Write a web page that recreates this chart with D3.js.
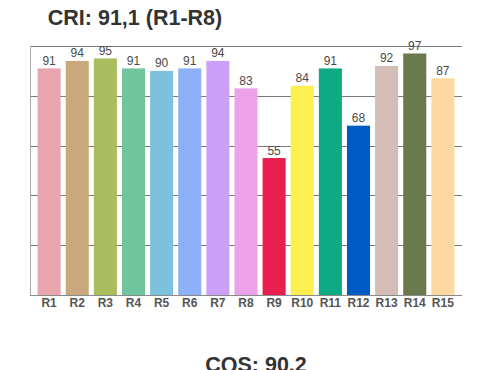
<!DOCTYPE html>
<html>
<head>
<meta charset="utf-8">
<script src="https://cdn.jsdelivr.net/npm/d3@7"></script>
<style>
  body { margin: 0; background: #fff; }
  svg { display: block; font-family: "Liberation Sans", Arial, sans-serif; }
</style>
</head>
<body>
<div id="chart"></div>
<script>
const W = 500;
const H = 370;

const categories = ['R1', 'R2', 'R3', 'R4', 'R5', 'R6', 'R7', 'R8', 'R9', 'R10', 'R11', 'R12', 'R13', 'R14', 'R15'];
const values = [91, 94, 95, 91, 90, 91, 94, 83, 55, 84, 91, 68, 92, 97, 87];
const colors = ['#e8a5ae', '#c9a87c', '#a9bd5f', '#6fc59d', '#7ec1df', '#8db1f9', '#cc9ff9', '#eca2e9',
  '#e81e4e', '#fdef52', '#0daa83', '#005ac4', '#d3bdb6', '#6a7a4d', '#fdd8a1'];
const gridTicks = [20, 40, 60, 80];
const titleText = 'CRI: 91,1 (R1-R8)';
const footText = 'CQS: 90.2';

const margin = { top: 46, right: 38, bottom: 75, left: 30 };

const svg = d3.select('#chart').append('svg')
  .attr('width', W)
  .attr('height', H);

const x = d3.scaleBand()
  .domain(categories)
  .range([margin.left, W - margin.right])
  .paddingInner(0.18)
  .paddingOuter(0.27);

const y = d3.scaleLinear()
  .domain([0, 100])
  .range([H - margin.bottom, margin.top]);

// gridlines behind the bars
svg.append('g')
  .selectAll('line')
  .data(gridTicks)
  .enter()
  .append('line')
  .attr('x1', margin.left)
  .attr('x2', W - margin.right)
  .attr('y1', d => Math.round(y(d)) + 0.5)
  .attr('y2', d => Math.round(y(d)) + 0.5)
  .attr('stroke', '#7a7a7a')
  .attr('stroke-width', 1);

// top line at 100
svg.append('line')
  .attr('x1', margin.left)
  .attr('x2', W - margin.right)
  .attr('y1', Math.round(y(100)) + 0.5)
  .attr('y2', Math.round(y(100)) + 0.5)
  .attr('stroke', '#7a7a7a');

// left frame
svg.append('line')
  .attr('x1', margin.left + 0.5)
  .attr('x2', margin.left + 0.5)
  .attr('y1', y(100))
  .attr('y2', y(0))
  .attr('stroke', '#a8a8a8');

svg.append('g')
  .selectAll('rect')
  .data(values)
  .enter()
  .append('rect')
  .attr('x', (d, i) => x(categories[i]))
  .attr('y', d => y(d))
  .attr('width', x.bandwidth())
  .attr('height', d => y(0) - y(d))
  .attr('fill', (d, i) => colors[i]);

// bottom axis line
svg.append('line')
  .attr('x1', margin.left)
  .attr('x2', W - margin.right)
  .attr('y1', Math.round(y(0)) + 0.5)
  .attr('y2', Math.round(y(0)) + 0.5)
  .attr('stroke', '#8a8a8a');

// value labels
svg.append('g')
  .selectAll('text')
  .data(values)
  .enter()
  .append('text')
  .attr('x', (d, i) => x(categories[i]) + x.bandwidth() / 2)
  .attr('y', d => y(d) - 3.5)
  .attr('text-anchor', 'middle')
  .attr('font-size', 12)
  .attr('fill', '#4a4a4a')
  .text(d => d);

// category labels
svg.append('g')
  .selectAll('text')
  .data(categories)
  .enter()
  .append('text')
  .attr('x', d => x(d) + x.bandwidth() / 2)
  .attr('y', y(0) + 12)
  .attr('text-anchor', 'middle')
  .attr('font-size', 12)
  .attr('font-weight', 'bold')
  .attr('fill', '#555')
  .text(d => d);

svg.append('text')
  .attr('x', 135)
  .attr('y', 25)
  .attr('text-anchor', 'middle')
  .attr('font-size', 21.5)
  .attr('font-weight', 'bold')
  .attr('fill', '#333')
  .text(titleText);

// the reference clips this line at the bottom edge
svg.append('text')
  .attr('x', 256)
  .attr('y', 372)
  .attr('text-anchor', 'middle')
  .attr('font-size', 21.5)
  .attr('font-weight', 'bold')
  .attr('fill', '#333')
  .text(footText);
</script>
</body>
</html>
